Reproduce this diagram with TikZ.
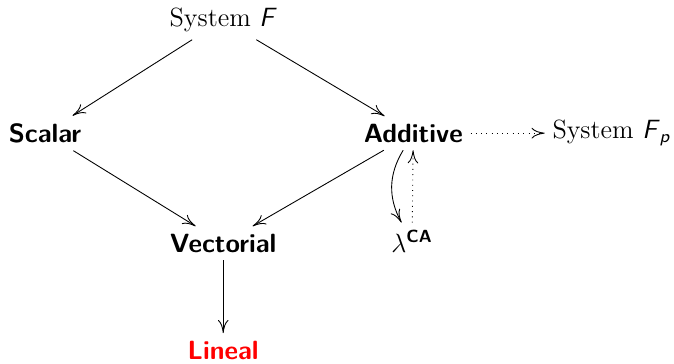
\documentclass[tikz,border=0pt]{standalone}
\usepackage{amsmath}
\usepackage{xcolor}
\usetikzlibrary{arrows.meta, positioning}
\tikzset{
    calc/.style={font=\large\sffamily\bfseries},
    sys/.style={font=\large},
    implies/.style={-{Computer Modern Rightarrow[length=2.1mm,width=1.7mm]}},
    embeds/.style={implies, dotted}
}

\begin{document}
\begin{tikzpicture}
    \useasboundingbox (0,0) rectangle (10.78,5.81);
    % Top
    \node[sys] (sysF) at (3.57,5.49) {System \textsf{\itshape F}};
    % Row 1
    \node[calc] (scalar) at (0.72,3.68) {Scalar};
    \node[calc] (additive) at (6.61,3.68) {Additive};
    \node[sys] (sysFp) at (9.78,3.68) {System \textsf{\itshape F}$_{\textsf{\itshape p}}$};
    % Row 2
    \node[calc] (vectorial) at (3.57,1.92) {Vectorial};
    \node[sys] (lambdaCA) at (6.59,1.95) {$\lambda^{\textsf{\textbf{CA}}}$};
    % Row 3
    \node[calc, red] (lineal) at (3.57,0.21) {Lineal};

    % arrows
    \draw[implies] (sysF) -- (scalar);
    \draw[implies] (sysF) -- (additive);
    \draw[implies] (scalar) -- (vectorial);
    \draw[implies] (additive) -- (vectorial);
    \draw[implies] (vectorial) -- (lineal);
    \draw[implies] (additive) to[bend right=30] (lambdaCA);
    \draw[embeds] (lambdaCA) -- (additive);
    \draw[embeds] (additive) -- (sysFp);
\end{tikzpicture}
\end{document}
